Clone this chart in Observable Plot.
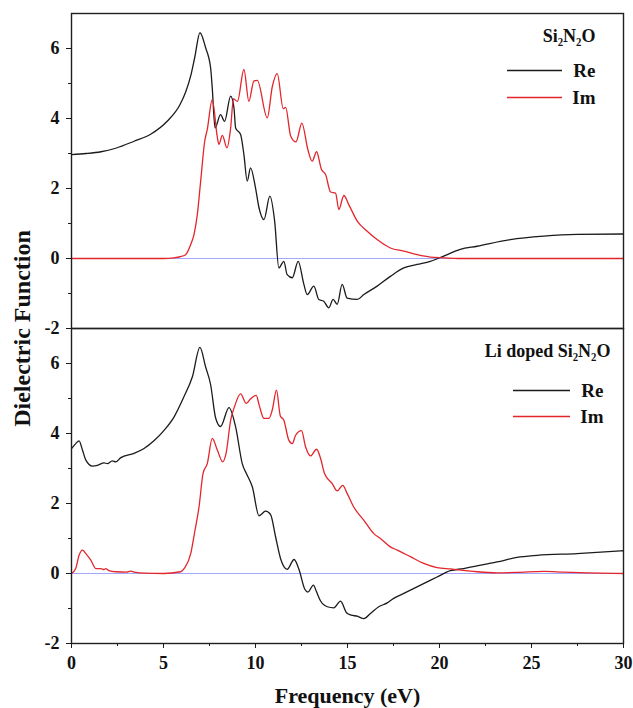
<!DOCTYPE html>
<html><head><meta charset="utf-8">
<script src="https://cdn.jsdelivr.net/npm/d3@7"></script>
<script src="https://cdn.jsdelivr.net/npm/@observablehq/plot@0.6"></script>
<style>body{margin:0;background:#fff}</style>
</head><body><div id="chart"></div>
<script>
const panels = ["Si₂N₂O", "Li doped Si₂N₂O"];
const seriesNames = ["Re", "Im"];
const xTicks = [0, 5, 10, 15, 20, 25, 30];
const xMinorTicks = [2.5, 7.5, 12.5, 17.5, 22.5, 27.5];
const yTicks = [-2, 0, 2, 4, 6];
const yMinorTicks = [-1, 1, 3, 5];

// Pristine Si2N2O, real part
const topReE = [0, 0.8, 1.6, 2.4, 3.4, 4.3, 5.2, 5.9, 6.2, 6.5, 6.7, 6.98, 7.29, 7.56, 7.65, 7.8, 8.1, 8.32, 8.65, 8.83, 8.92, 9.19, 9.37, 9.55, 9.73, 10.0, 10.19, 10.46, 10.78, 11.04, 11.27, 11.54, 11.72, 12.0, 12.32, 12.63, 12.81, 13.17, 13.44, 13.71, 13.98, 14.22, 14.44, 14.71, 14.98, 15.53, 15.89, 16.61, 17.33, 18.06, 18.78, 19.5, 20.23, 21.13, 22.04, 23.85, 25.66, 27.47, 30];
const topReV = [2.97, 3.0, 3.05, 3.15, 3.35, 3.55, 3.92, 4.4, 4.75, 5.26, 5.75, 6.45, 6.02, 5.45, 4.87, 3.73, 4.11, 3.92, 4.64, 4.3, 3.73, 3.54, 2.97, 2.21, 2.59, 2.02, 1.45, 1.11, 1.78, 1.07, -0.27, -0.08, -0.46, -0.55, -0.08, -0.74, -1.03, -0.79, -1.17, -1.22, -1.41, -1.17, -1.31, -0.74, -1.13, -1.17, -1.03, -0.79, -0.51, -0.27, -0.17, -0.08, 0.07, 0.26, 0.35, 0.54, 0.64, 0.69, 0.70];

// Pristine Si2N2O, imaginary part
const topImE = [0, 5.0, 5.57, 5.9, 6.2, 6.48, 6.66, 6.84, 7.02, 7.24, 7.38, 7.65, 7.93, 8.01, 8.2, 8.45, 8.65, 8.8, 9.02, 9.37, 9.64, 9.91, 10.1, 10.64, 10.91, 11.18, 11.51, 11.64, 11.91, 12.2, 12.52, 12.85, 13.08, 13.32, 13.58, 13.81, 14.08, 14.35, 14.53, 14.8, 15.07, 15.53, 16.07, 16.61, 17.33, 18.06, 18.78, 19.5, 20.23, 21, 30];
const topImV = [0, 0, 0.02, 0.05, 0.11, 0.4, 0.69, 1.26, 2.21, 3.35, 3.69, 4.54, 3.45, 3.26, 3.52, 3.16, 3.73, 4.56, 4.49, 5.4, 4.49, 5.07, 5.09, 4.02, 4.9, 5.28, 4.28, 4.32, 3.5, 3.33, 3.87, 3.1, 2.78, 3.05, 2.55, 2.4, 1.9, 1.87, 1.4, 1.8, 1.54, 1.07, 0.78, 0.54, 0.3, 0.21, 0.11, 0.04, 0.02, 0, 0];

// Li doped Si2N2O, real part
const botReE = [0, 0.23, 0.41, 0.6, 0.78, 1.14, 1.41, 1.77, 1.95, 2.22, 2.4, 2.68, 3.4, 3.94, 4.48, 5.03, 5.57, 6.11, 6.57, 6.98, 7.29, 7.56, 7.83, 8.1, 8.56, 8.92, 9.28, 9.55, 9.83, 10.19, 10.55, 10.82, 11.09, 11.36, 11.72, 12.1, 12.36, 12.68, 12.85, 13.15, 13.3, 13.53, 13.9, 14.26, 14.62, 14.95, 15.2, 15.53, 15.89, 16.25, 16.7, 17.16, 17.51, 18.06, 18.78, 19.33, 19.87, 20.59, 21.31, 22.04, 23.13, 24.21, 25.3, 27.47, 30];
const botReV = [3.57, 3.71, 3.79, 3.52, 3.24, 3.07, 3.09, 3.16, 3.14, 3.22, 3.19, 3.31, 3.43, 3.57, 3.79, 4.09, 4.47, 5.05, 5.62, 6.46, 5.9, 5.4, 4.45, 4.2, 4.74, 4.19, 3.14, 2.81, 2.47, 1.65, 1.78, 1.68, 1.05, 0.43, 0.12, 0.4, 0.12, -0.45, -0.53, -0.33, -0.5, -0.78, -0.95, -0.98, -0.79, -1.12, -1.19, -1.22, -1.29, -1.14, -0.95, -0.84, -0.71, -0.57, -0.38, -0.24, -0.1, 0.08, 0.14, 0.22, 0.33, 0.46, 0.52, 0.57, 0.65];

// Li doped Si2N2O, imaginary part
const botImE = [0, 0.23, 0.41, 0.6, 0.78, 1.05, 1.32, 1.59, 1.77, 1.86, 2.04, 2.4, 3.0, 3.2, 3.5, 3.94, 5.0, 5.93, 6.15, 6.48, 6.7, 6.93, 7.15, 7.38, 7.65, 7.93, 8.22, 8.4, 8.65, 8.88, 9.19, 9.5, 9.75, 10.04, 10.2, 10.46, 10.73, 10.91, 11.14, 11.35, 11.54, 11.81, 12.0, 12.18, 12.5, 12.72, 12.99, 13.32, 13.53, 13.75, 14.17, 14.44, 14.74, 14.98, 15.34, 15.89, 16.43, 16.79, 17.33, 17.7, 18.42, 19.14, 19.87, 20.59, 21.31, 22.04, 23.13, 24.21, 25.66, 26.74, 28, 30];
const botImV = [0, 0.14, 0.52, 0.67, 0.57, 0.38, 0.14, 0.14, 0.11, 0.14, 0.08, 0.05, 0.04, 0.07, 0.03, 0.01, 0, 0.05, 0.16, 0.57, 1.2, 1.9, 2.86, 3.14, 3.86, 3.52, 3.19, 3.43, 4.38, 4.8, 5.13, 4.86, 5.0, 5.09, 4.81, 4.43, 4.43, 4.67, 5.24, 4.5, 4.38, 3.81, 3.71, 3.95, 4.08, 3.62, 3.36, 3.55, 3.3, 2.86, 2.57, 2.36, 2.52, 2.29, 1.9, 1.52, 1.14, 1.0, 0.76, 0.67, 0.48, 0.29, 0.17, 0.13, 0.09, 0.05, 0.02, 0.03, 0.06, 0.04, 0.02, 0];

const toRows = (panel, series, E, V) => E.map((e, i) => ({panel, series, E: e, v: V[i]}));
const data = [
  ...toRows(panels[0], "Re", topReE, topReV),
  ...toRows(panels[0], "Im", topImE, topImV),
  ...toRows(panels[1], "Re", botReE, botReV),
  ...toRows(panels[1], "Im", botImE, botImV)
];
const colors = {Re: "#1b1b1b", Im: "#e3262b"};
const serif = "'Liberation Serif', 'Times New Roman', serif";

const swatch = half => ({draw(ctx) { ctx.moveTo(-half, 0); ctx.lineTo(half, 0); }});

function legendMarks(panel, o) {
  const d = [{panel}];
  const t = {fy: "panel", frameAnchor: "top-right", textAnchor: "end", lineAnchor: "middle", fontFamily: serif, fontWeight: "bold", fill: "#111"};
  return [
    Plot.text(d, {...t, text: () => panel, dx: o.tdx, dy: o.tdy, fontSize: 18}),
    Plot.text(d, {...t, text: () => seriesNames[0], dx: o.ldx, dy: o.re, fontSize: 19}),
    Plot.text(d, {...t, text: () => seriesNames[1], dx: o.ldx, dy: o.im, fontSize: 19}),
    Plot.dot(d, {fy: "panel", frameAnchor: "top-right", dx: o.sdx, dy: o.re, symbol: swatch(o.half), fill: "none", stroke: colors.Re, strokeWidth: 1.3}),
    Plot.dot(d, {fy: "panel", frameAnchor: "top-right", dx: o.sdx, dy: o.im, symbol: swatch(o.half), fill: "none", stroke: colors.Im, strokeWidth: 1.3})
  ];
}

const axisText = {fontSize: 18, fontWeight: "bold", fontFamily: serif, fill: "#111"};

const chart = Plot.plot({
  width: 633,
  height: 708,
  marginLeft: 71,
  marginRight: 10,
  marginTop: 13,
  marginBottom: 65,
  style: {fontFamily: serif, fontWeight: "bold", fontSize: "18px", color: "#1a1a1a", background: "#fff"},
  x: {domain: [0, 30]},
  y: {domain: [-2, 7]},
  fy: {domain: panels, axis: null, padding: 0},
  marks: [
    Plot.ruleY([0], {stroke: "#a3a8ff", strokeWidth: 1}),
    Plot.line(data.filter(d => d.series === "Re"), {x: "E", y: "v", fy: "panel", z: "panel", stroke: colors.Re, strokeWidth: 1.3, curve: "monotone-x"}),
    Plot.line(data.filter(d => d.series === "Im"), {x: "E", y: "v", fy: "panel", z: "panel", stroke: colors.Im, strokeWidth: 1.3, curve: "monotone-x"}),
    Plot.frame({stroke: "#1f1f1f", strokeWidth: 1.4}),
    Plot.axisY({ticks: yTicks, tickSize: 5, tickPadding: 7, tickFormat: d => String(d), label: null, ...axisText}),
    Plot.axisY({ticks: yMinorTicks, tickSize: 3, text: null, label: null}),
    Plot.axisX({ticks: xTicks, tickSize: 5, tickPadding: 8, tickFormat: d => String(d), label: null, ...axisText}),
    Plot.axisX({ticks: xMinorTicks, tickSize: 3, text: null, label: null}),
    ...legendMarks(panels[0], {tdx: -28, tdy: 23, ldx: -28, re: 57, im: 84, sdx: -89, half: 27.5}),
    ...legendMarks(panels[1], {tdx: -13, tdy: 23, ldx: -20, re: 62, im: 88, sdx: -82, half: 28.5}),
    Plot.text(["Dielectric Function"], {facet: "super", frameAnchor: "left", dx: -49, rotate: -90, textAnchor: "middle", lineAnchor: "middle", fontSize: 24, fontWeight: "bold", fontFamily: serif, fill: "#111"}),
    Plot.text(["Frequency (eV)"], {facet: "super", frameAnchor: "bottom", dy: 52, textAnchor: "middle", lineAnchor: "middle", fontSize: 22, fontWeight: "bold", fontFamily: serif, fill: "#111"})
  ]
});
document.getElementById("chart").append(chart);
</script>
</body></html>
